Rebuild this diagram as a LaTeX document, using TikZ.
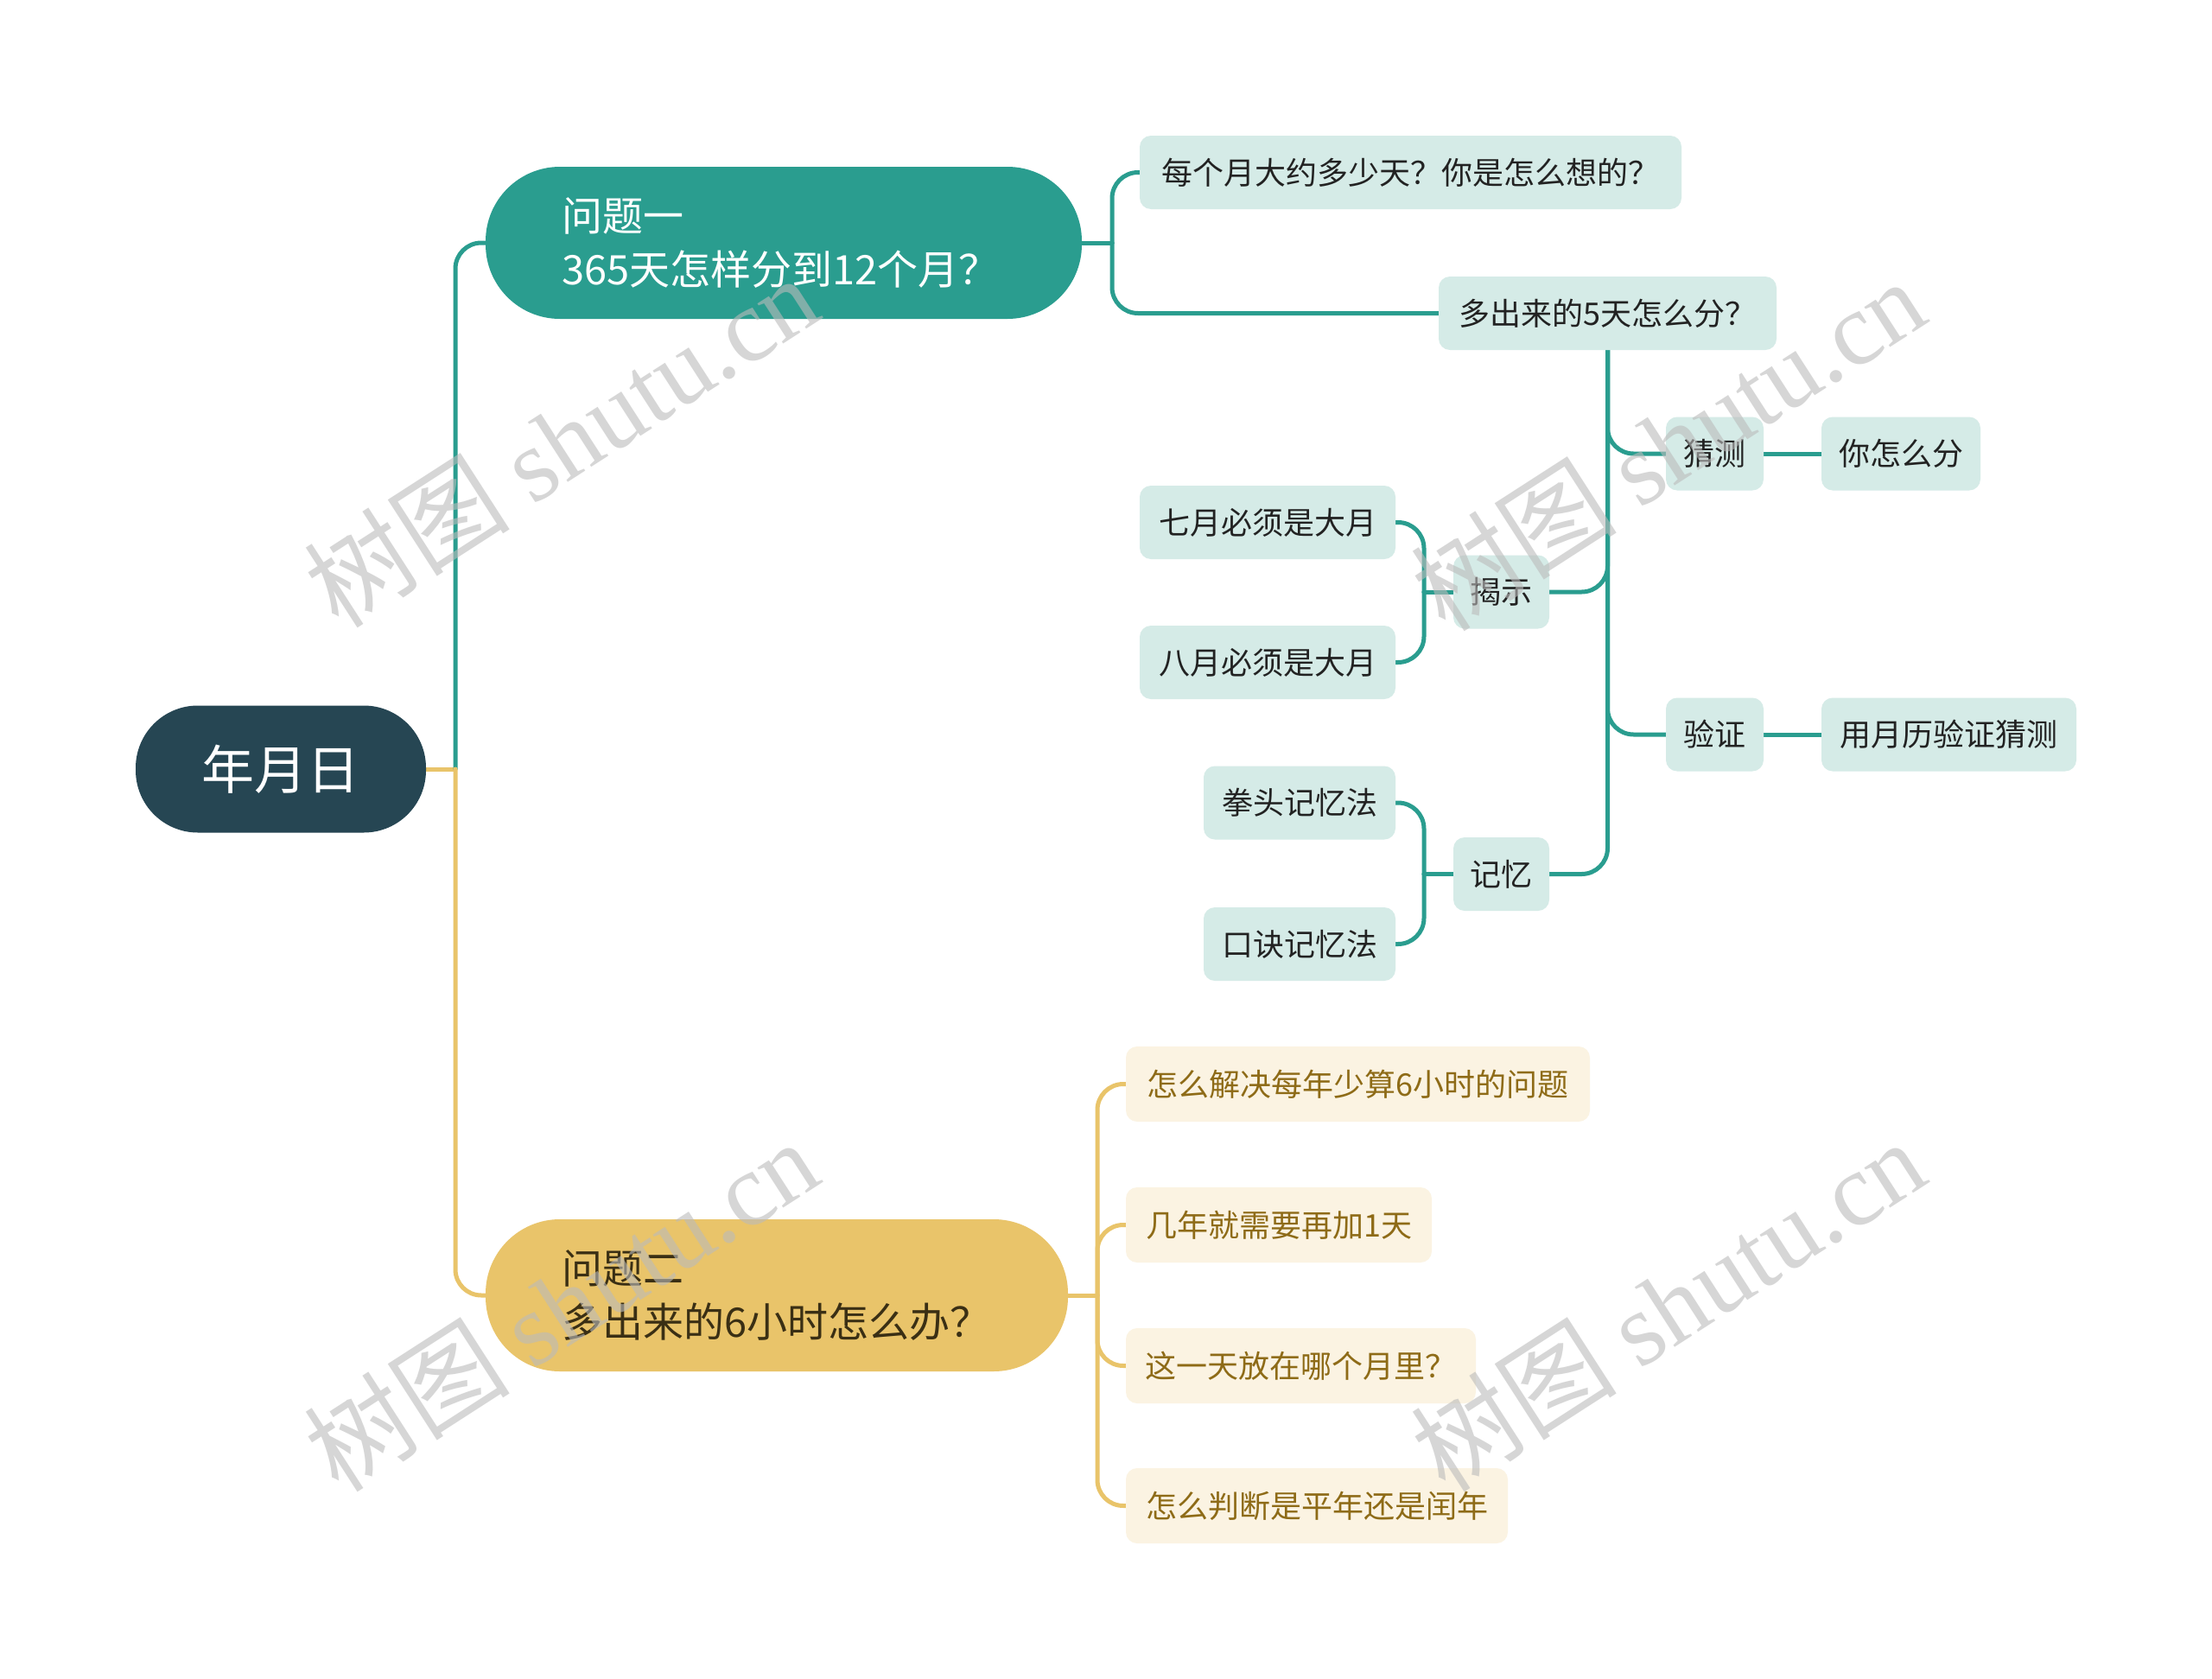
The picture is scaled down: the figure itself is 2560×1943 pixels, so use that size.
\documentclass[tikz,border=0pt]{standalone}
\usepackage{fontspec}
\setmainfont{Noto Sans CJK SC}
\newfontfamily\wmlatin{Liberation Serif}
\usetikzlibrary{backgrounds}
\definecolor{rootc}{HTML}{264653}
\definecolor{tealc}{HTML}{2A9D8F}
\definecolor{yelc}{HTML}{E9C46A}
\definecolor{tleafc}{HTML}{D5EBE7}
\definecolor{yleafc}{HTML}{FBF3E2}
\definecolor{ytextc}{HTML}{8E6B17}
\definecolor{darktext}{HTML}{222222}
\definecolor{q2text}{HTML}{3A2F14}
\definecolor{wmc}{HTML}{BBBBBB}
\tikzset{
  rootnode/.style={fill=rootc, text=white, rounded corners=72pt, minimum width=336pt, minimum height=147pt, inner sep=0pt, font=\fontsize{61}{70}\selectfont},
  mainnode/.style={rounded corners=86pt, minimum height=176pt, inner xsep=88pt, inner ysep=0pt, align=left, font=\fontsize{47}{62}\selectfont},
  tleaf/.style={fill=tleafc, text=darktext, rounded corners=13pt, minimum height=85pt, minimum width=#1, inner sep=0pt, font=\fontsize{36}{40}\selectfont},
  yleaf/.style={fill=yleafc, text=ytextc, rounded corners=13pt, minimum height=87pt, minimum width=#1, inner sep=0pt, font=\fontsize{36}{40}\selectfont},
  tline/.style={draw=tealc, line width=5pt, line cap=round, rounded corners=30pt},
  yline/.style={draw=yelc, line width=5pt, line cap=round, rounded corners=30pt},
  wm/.style={text=wmc, opacity=0.6, rotate=32.8, font=\fontsize{120}{130}\selectfont}
}
\begin{document}
\begin{tikzpicture}[x=1pt,y=-1pt]
\useasboundingbox (0,0) rectangle (2560,1943);
% nodes
\node[rootnode] (root) at (325,890) {年月日};
\node[mainnode, fill=tealc, text=white, text width=514pt] (q1) at (907,281) {问题一\\365天怎样分到12个月？};
\node[mainnode, fill=yelc, text=q2text, text width=498pt] (q2) at (899,1499) {问题二\\多出来的6小时怎么办？};

\node[tleaf=627pt] (c1) at (1632.5,199.5) {每个月大约多少天？你是怎么想的？};
\node[tleaf=391pt] (c2) at (1860.5,362.5) {多出来的5天怎么分？};
\node[tleaf=113pt] (g1) at (1984.5,525) {猜测};
\node[tleaf=184pt] (n1) at (2200,525) {你怎么分};
\node[tleaf=111pt] (g3) at (1737.5,685) {揭示};
\node[tleaf=113pt] (g2) at (1984.5,850) {验证};
\node[tleaf=295pt] (n2) at (2255.5,850) {用月历验证猜测};
\node[tleaf=111pt] (g4) at (1737.5,1011.5) {记忆};
\node[tleaf=296pt] (l1) at (1467,604.5) {七月必须是大月};
\node[tleaf=296pt] (l2) at (1467,766.5) {八月必须是大月};
\node[tleaf=222pt] (l3) at (1504,929) {拳头记忆法};
\node[tleaf=222pt] (l4) at (1504,1092.5) {口诀记忆法};

\node[yleaf=537pt] (y1) at (1571.5,1254.5) {怎么解决每年少算6小时的问题};
\node[yleaf=354pt] (y2) at (1480,1417.5) {几年就需要再加1天};
\node[yleaf=405pt] (y3) at (1505.5,1580.5) {这一天放在哪个月里？};
\node[yleaf=442pt] (y4) at (1524,1742.5) {怎么判断是平年还是闰年};

\coordinate (j0) at (527,890);
\coordinate (j1) at (1287,281);
\coordinate (j2) at (1270,1499);
\coordinate (j3) at (1648,685);
\coordinate (j4) at (1648,1011.5);

\begin{scope}[on background layer]
\fill[white] (0,0) rectangle (2560,1943);
\draw[yline] (root.east) -- (j0);
\draw[tline] (j0) |- (q1.west);
\draw[yline] (j0) |- (q2.west);
\draw[tline] (q1.east) -- (j1);
\draw[tline] (j1) |- (c1.west);
\draw[tline] (j1) |- (c2.west);
\draw[tline] (c2.south) |- (g1.west);
\draw[tline] (c2.south) |- (g2.west);
\draw[tline] (c2.south) |- (g3.east);
\draw[tline] (c2.south) |- (g4.east);
\draw[tline] (g1.east) -- (n1.west);
\draw[tline] (g2.east) -- (n2.west);
\draw[tline] (g3.west) -- (j3);
\draw[tline] (j3) |- (l1.east);
\draw[tline] (j3) |- (l2.east);
\draw[tline] (g4.west) -- (j4);
\draw[tline] (j4) |- (l3.east);
\draw[tline] (j4) |- (l4.east);
\draw[yline] (q2.east) -- (j2);
\draw[yline] (j2) |- (y1.west);
\draw[yline] (j2) |- (y2.west);
\draw[yline] (j2) |- (y3.west);
\draw[yline] (j2) |- (y4.west);
\end{scope}

% watermarks
\node[wm] (w1) at (649,510) {树图 {\wmlatin shutu.cn}};
\node[wm] (w2) at (1930,514) {树图 {\wmlatin shutu.cn}};
\node[wm] (w3) at (649,1510) {树图 {\wmlatin shutu.cn}};
\node[wm] (w4) at (1930,1510) {树图 {\wmlatin shutu.cn}};
\end{tikzpicture}
\end{document}
